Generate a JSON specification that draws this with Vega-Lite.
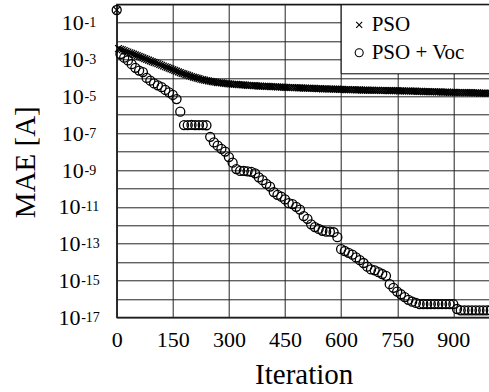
{
  "$schema": "https://vega.github.io/schema/vega-lite/v6.json",
  "width": 374,
  "height": 313,
  "autosize": {"type": "none"},
  "padding": {"left": 116.7, "top": 4.3, "right": 0, "bottom": 75},
  "background": "white",
  "config": {
    "font": "Liberation Serif",
    "view": {"stroke": "#000", "strokeWidth": 1.3},
    "axis": {
      "labelFont": "Liberation Serif", "titleFont": "Liberation Serif",
      "labelColor": "#000", "titleColor": "#000", "titleFontWeight": "normal",
      "ticks": false, "domainColor": "#222", "gridColor": "#222", "gridOpacity": 1, "gridWidth": 1,
      "labelOverlap": false, "labelFlush": false
    }
  },
  "data": {"values": [
    {"s":"PSO","i":0,"v":0.49},{"s":"PSO","i":5,"v":3.98e-3},{"s":"PSO","i":10,"v":3.63e-3},{"s":"PSO","i":15,"v":3.39e-3},{"s":"PSO","i":20,"v":3.09e-3},
    {"s":"PSO","i":25,"v":2.82e-3},{"s":"PSO","i":30,"v":2.57e-3},{"s":"PSO","i":35,"v":2.34e-3},{"s":"PSO","i":40,"v":2.14e-3},{"s":"PSO","i":45,"v":1.95e-3},
    {"s":"PSO","i":50,"v":1.78e-3},{"s":"PSO","i":55,"v":1.62e-3},{"s":"PSO","i":60,"v":1.48e-3},{"s":"PSO","i":65,"v":1.35e-3},{"s":"PSO","i":70,"v":1.23e-3},
    {"s":"PSO","i":75,"v":1.12e-3},{"s":"PSO","i":80,"v":1.02e-3},{"s":"PSO","i":85,"v":9.33e-4},{"s":"PSO","i":90,"v":8.51e-4},{"s":"PSO","i":95,"v":7.76e-4},
    {"s":"PSO","i":100,"v":7.08e-4},{"s":"PSO","i":105,"v":6.46e-4},{"s":"PSO","i":110,"v":5.89e-4},{"s":"PSO","i":115,"v":5.37e-4},{"s":"PSO","i":120,"v":4.90e-4},
    {"s":"PSO","i":125,"v":4.47e-4},{"s":"PSO","i":130,"v":4.07e-4},{"s":"PSO","i":135,"v":3.72e-4},{"s":"PSO","i":140,"v":3.39e-4},{"s":"PSO","i":145,"v":3.09e-4},
    {"s":"PSO","i":150,"v":2.82e-4},{"s":"PSO","i":155,"v":2.57e-4},{"s":"PSO","i":160,"v":2.34e-4},{"s":"PSO","i":165,"v":2.14e-4},{"s":"PSO","i":170,"v":1.95e-4},
    {"s":"PSO","i":175,"v":1.78e-4},{"s":"PSO","i":180,"v":1.66e-4},{"s":"PSO","i":185,"v":1.51e-4},{"s":"PSO","i":190,"v":1.41e-4},{"s":"PSO","i":195,"v":1.29e-4},
    {"s":"PSO","i":200,"v":1.20e-4},{"s":"PSO","i":205,"v":1.12e-4},{"s":"PSO","i":210,"v":1.05e-4},{"s":"PSO","i":215,"v":9.77e-5},{"s":"PSO","i":220,"v":9.12e-5},
    {"s":"PSO","i":225,"v":8.51e-5},{"s":"PSO","i":230,"v":8.13e-5},{"s":"PSO","i":235,"v":7.59e-5},{"s":"PSO","i":240,"v":7.24e-5},{"s":"PSO","i":245,"v":6.92e-5},
    {"s":"PSO","i":250,"v":6.61e-5},{"s":"PSO","i":255,"v":6.31e-5},{"s":"PSO","i":260,"v":6.17e-5},{"s":"PSO","i":265,"v":5.89e-5},{"s":"PSO","i":270,"v":5.62e-5},
    {"s":"PSO","i":275,"v":5.50e-5},{"s":"PSO","i":280,"v":5.37e-5},{"s":"PSO","i":285,"v":5.25e-5},{"s":"PSO","i":290,"v":5.01e-5},{"s":"PSO","i":295,"v":4.90e-5},
    {"s":"PSO","i":300,"v":4.79e-5},{"s":"PSO","i":305,"v":4.68e-5},{"s":"PSO","i":310,"v":4.57e-5},{"s":"PSO","i":315,"v":4.57e-5},{"s":"PSO","i":320,"v":4.47e-5},
    {"s":"PSO","i":325,"v":4.37e-5},{"s":"PSO","i":330,"v":4.27e-5},{"s":"PSO","i":335,"v":4.17e-5},{"s":"PSO","i":340,"v":4.17e-5},{"s":"PSO","i":345,"v":4.07e-5},
    {"s":"PSO","i":350,"v":3.98e-5},{"s":"PSO","i":355,"v":3.89e-5},{"s":"PSO","i":360,"v":3.89e-5},{"s":"PSO","i":365,"v":3.80e-5},{"s":"PSO","i":370,"v":3.80e-5},
    {"s":"PSO","i":375,"v":3.72e-5},{"s":"PSO","i":380,"v":3.63e-5},{"s":"PSO","i":385,"v":3.63e-5},{"s":"PSO","i":390,"v":3.55e-5},{"s":"PSO","i":395,"v":3.55e-5},
    {"s":"PSO","i":400,"v":3.47e-5},{"s":"PSO","i":405,"v":3.47e-5},{"s":"PSO","i":410,"v":3.39e-5},{"s":"PSO","i":415,"v":3.39e-5},{"s":"PSO","i":420,"v":3.31e-5},
    {"s":"PSO","i":425,"v":3.31e-5},{"s":"PSO","i":430,"v":3.24e-5},{"s":"PSO","i":435,"v":3.24e-5},{"s":"PSO","i":440,"v":3.16e-5},{"s":"PSO","i":445,"v":3.16e-5},
    {"s":"PSO","i":450,"v":3.09e-5},{"s":"PSO","i":455,"v":3.09e-5},{"s":"PSO","i":460,"v":3.02e-5},{"s":"PSO","i":465,"v":3.02e-5},{"s":"PSO","i":470,"v":3.02e-5},
    {"s":"PSO","i":475,"v":2.95e-5},{"s":"PSO","i":480,"v":2.95e-5},{"s":"PSO","i":485,"v":2.88e-5},{"s":"PSO","i":490,"v":2.88e-5},{"s":"PSO","i":495,"v":2.88e-5},
    {"s":"PSO","i":500,"v":2.82e-5},{"s":"PSO","i":505,"v":2.82e-5},{"s":"PSO","i":510,"v":2.75e-5},{"s":"PSO","i":515,"v":2.75e-5},{"s":"PSO","i":520,"v":2.75e-5},
    {"s":"PSO","i":525,"v":2.69e-5},{"s":"PSO","i":530,"v":2.69e-5},{"s":"PSO","i":535,"v":2.63e-5},{"s":"PSO","i":540,"v":2.63e-5},{"s":"PSO","i":545,"v":2.63e-5},
    {"s":"PSO","i":550,"v":2.57e-5},{"s":"PSO","i":555,"v":2.57e-5},{"s":"PSO","i":560,"v":2.57e-5},{"s":"PSO","i":565,"v":2.51e-5},{"s":"PSO","i":570,"v":2.51e-5},
    {"s":"PSO","i":575,"v":2.51e-5},{"s":"PSO","i":580,"v":2.45e-5},{"s":"PSO","i":585,"v":2.45e-5},{"s":"PSO","i":590,"v":2.45e-5},{"s":"PSO","i":595,"v":2.40e-5},
    {"s":"PSO","i":600,"v":2.40e-5},{"s":"PSO","i":605,"v":2.40e-5},{"s":"PSO","i":610,"v":2.34e-5},{"s":"PSO","i":615,"v":2.34e-5},{"s":"PSO","i":620,"v":2.34e-5},
    {"s":"PSO","i":625,"v":2.29e-5},{"s":"PSO","i":630,"v":2.29e-5},{"s":"PSO","i":635,"v":2.29e-5},{"s":"PSO","i":640,"v":2.24e-5},{"s":"PSO","i":645,"v":2.24e-5},
    {"s":"PSO","i":650,"v":2.24e-5},{"s":"PSO","i":655,"v":2.19e-5},{"s":"PSO","i":660,"v":2.19e-5},{"s":"PSO","i":665,"v":2.19e-5},{"s":"PSO","i":670,"v":2.19e-5},
    {"s":"PSO","i":675,"v":2.14e-5},{"s":"PSO","i":680,"v":2.14e-5},{"s":"PSO","i":685,"v":2.14e-5},{"s":"PSO","i":690,"v":2.14e-5},{"s":"PSO","i":695,"v":2.14e-5},
    {"s":"PSO","i":700,"v":2.14e-5},{"s":"PSO","i":705,"v":2.09e-5},{"s":"PSO","i":710,"v":2.09e-5},{"s":"PSO","i":715,"v":2.09e-5},{"s":"PSO","i":720,"v":2.09e-5},
    {"s":"PSO","i":725,"v":2.04e-5},{"s":"PSO","i":730,"v":2.04e-5},{"s":"PSO","i":735,"v":2.04e-5},{"s":"PSO","i":740,"v":2.04e-5},{"s":"PSO","i":745,"v":2.04e-5},
    {"s":"PSO","i":750,"v":2.04e-5},{"s":"PSO","i":755,"v":2.00e-5},{"s":"PSO","i":760,"v":2.00e-5},{"s":"PSO","i":765,"v":2.00e-5},{"s":"PSO","i":770,"v":1.95e-5},
    {"s":"PSO","i":775,"v":1.95e-5},{"s":"PSO","i":780,"v":1.95e-5},{"s":"PSO","i":785,"v":1.95e-5},{"s":"PSO","i":790,"v":1.91e-5},{"s":"PSO","i":795,"v":1.91e-5},
    {"s":"PSO","i":800,"v":1.91e-5},{"s":"PSO","i":805,"v":1.86e-5},{"s":"PSO","i":810,"v":1.86e-5},{"s":"PSO","i":815,"v":1.86e-5},{"s":"PSO","i":820,"v":1.82e-5},
    {"s":"PSO","i":825,"v":1.82e-5},{"s":"PSO","i":830,"v":1.82e-5},{"s":"PSO","i":835,"v":1.82e-5},{"s":"PSO","i":840,"v":1.78e-5},{"s":"PSO","i":845,"v":1.78e-5},
    {"s":"PSO","i":850,"v":1.78e-5},{"s":"PSO","i":855,"v":1.74e-5},{"s":"PSO","i":860,"v":1.74e-5},{"s":"PSO","i":865,"v":1.74e-5},{"s":"PSO","i":870,"v":1.70e-5},
    {"s":"PSO","i":875,"v":1.70e-5},{"s":"PSO","i":880,"v":1.70e-5},{"s":"PSO","i":885,"v":1.70e-5},{"s":"PSO","i":890,"v":1.66e-5},{"s":"PSO","i":895,"v":1.66e-5},
    {"s":"PSO","i":900,"v":1.66e-5},{"s":"PSO","i":905,"v":1.66e-5},{"s":"PSO","i":910,"v":1.62e-5},{"s":"PSO","i":915,"v":1.62e-5},{"s":"PSO","i":920,"v":1.62e-5},
    {"s":"PSO","i":925,"v":1.62e-5},{"s":"PSO","i":930,"v":1.58e-5},{"s":"PSO","i":935,"v":1.58e-5},{"s":"PSO","i":940,"v":1.58e-5},{"s":"PSO","i":945,"v":1.58e-5},
    {"s":"PSO","i":950,"v":1.58e-5},{"s":"PSO","i":955,"v":1.55e-5},{"s":"PSO","i":960,"v":1.55e-5},{"s":"PSO","i":965,"v":1.55e-5},{"s":"PSO","i":970,"v":1.51e-5},
    {"s":"PSO","i":975,"v":1.51e-5},{"s":"PSO","i":980,"v":1.51e-5},{"s":"PSO","i":985,"v":1.51e-5},{"s":"PSO","i":990,"v":1.48e-5},{"s":"PSO","i":995,"v":1.48e-5},
    {"s":"PSO","i":1000,"v":1.48e-5},
    {"s":"PSO + Voc","i":0,"v":0.49},{"s":"PSO + Voc","i":10,"v":2.00e-3},{"s":"PSO + Voc","i":20,"v":1.26e-3},{"s":"PSO + Voc","i":30,"v":8.91e-4},
    {"s":"PSO + Voc","i":40,"v":5.62e-4},{"s":"PSO + Voc","i":50,"v":3.55e-4},{"s":"PSO + Voc","i":60,"v":2.51e-4},{"s":"PSO + Voc","i":70,"v":2.09e-4},
    {"s":"PSO + Voc","i":80,"v":1.00e-4},{"s":"PSO + Voc","i":90,"v":7.08e-5},{"s":"PSO + Voc","i":100,"v":5.01e-5},{"s":"PSO + Voc","i":110,"v":3.98e-5},
    {"s":"PSO + Voc","i":120,"v":3.16e-5},{"s":"PSO + Voc","i":130,"v":2.24e-5},{"s":"PSO + Voc","i":140,"v":1.66e-5},{"s":"PSO + Voc","i":150,"v":1.20e-5},
    {"s":"PSO + Voc","i":160,"v":7.08e-6},{"s":"PSO + Voc","i":170,"v":1.48e-6},{"s":"PSO + Voc","i":180,"v":2.75e-7},{"s":"PSO + Voc","i":190,"v":2.75e-7},
    {"s":"PSO + Voc","i":200,"v":2.82e-7},{"s":"PSO + Voc","i":210,"v":2.75e-7},{"s":"PSO + Voc","i":220,"v":2.75e-7},{"s":"PSO + Voc","i":230,"v":2.75e-7},
    {"s":"PSO + Voc","i":240,"v":2.69e-7},{"s":"PSO + Voc","i":250,"v":6.31e-8},{"s":"PSO + Voc","i":260,"v":3.16e-8},{"s":"PSO + Voc","i":270,"v":2.09e-8},
    {"s":"PSO + Voc","i":280,"v":1.41e-8},{"s":"PSO + Voc","i":290,"v":1.00e-8},{"s":"PSO + Voc","i":300,"v":5.01e-9},{"s":"PSO + Voc","i":310,"v":2.51e-9},
    {"s":"PSO + Voc","i":320,"v":1.12e-9},{"s":"PSO + Voc","i":330,"v":8.91e-10},{"s":"PSO + Voc","i":340,"v":8.91e-10},{"s":"PSO + Voc","i":350,"v":8.51e-10},
    {"s":"PSO + Voc","i":360,"v":7.94e-10},{"s":"PSO + Voc","i":370,"v":6.61e-10},{"s":"PSO + Voc","i":380,"v":3.98e-10},{"s":"PSO + Voc","i":390,"v":2.82e-10},
    {"s":"PSO + Voc","i":400,"v":1.78e-10},{"s":"PSO + Voc","i":410,"v":1.26e-10},{"s":"PSO + Voc","i":420,"v":6.31e-11},{"s":"PSO + Voc","i":430,"v":4.47e-11},
    {"s":"PSO + Voc","i":440,"v":3.55e-11},{"s":"PSO + Voc","i":450,"v":2.51e-11},{"s":"PSO + Voc","i":460,"v":1.58e-11},{"s":"PSO + Voc","i":470,"v":1.41e-11},
    {"s":"PSO + Voc","i":480,"v":1.00e-11},{"s":"PSO + Voc","i":490,"v":7.08e-12},{"s":"PSO + Voc","i":500,"v":3.16e-12},{"s":"PSO + Voc","i":510,"v":2.24e-12},
    {"s":"PSO + Voc","i":520,"v":1.12e-12},{"s":"PSO + Voc","i":530,"v":7.94e-13},{"s":"PSO + Voc","i":540,"v":6.31e-13},{"s":"PSO + Voc","i":550,"v":5.01e-13},
    {"s":"PSO + Voc","i":560,"v":4.47e-13},{"s":"PSO + Voc","i":570,"v":4.47e-13},{"s":"PSO + Voc","i":580,"v":4.17e-13},{"s":"PSO + Voc","i":590,"v":2.24e-13},
    {"s":"PSO + Voc","i":600,"v":5.01e-14},{"s":"PSO + Voc","i":610,"v":3.98e-14},{"s":"PSO + Voc","i":620,"v":3.16e-14},{"s":"PSO + Voc","i":630,"v":2.51e-14},
    {"s":"PSO + Voc","i":640,"v":1.78e-14},{"s":"PSO + Voc","i":650,"v":1.26e-14},{"s":"PSO + Voc","i":660,"v":8.91e-15},{"s":"PSO + Voc","i":670,"v":5.62e-15},
    {"s":"PSO + Voc","i":680,"v":3.98e-15},{"s":"PSO + Voc","i":690,"v":3.55e-15},{"s":"PSO + Voc","i":700,"v":2.82e-15},{"s":"PSO + Voc","i":710,"v":2.24e-15},
    {"s":"PSO + Voc","i":720,"v":1.78e-15},{"s":"PSO + Voc","i":730,"v":6.31e-16},{"s":"PSO + Voc","i":740,"v":3.98e-16},{"s":"PSO + Voc","i":750,"v":2.51e-16},
    {"s":"PSO + Voc","i":760,"v":1.78e-16},{"s":"PSO + Voc","i":770,"v":1.26e-16},{"s":"PSO + Voc","i":780,"v":8.91e-17},{"s":"PSO + Voc","i":790,"v":7.08e-17},
    {"s":"PSO + Voc","i":800,"v":6.03e-17},{"s":"PSO + Voc","i":810,"v":5.25e-17},{"s":"PSO + Voc","i":820,"v":5.25e-17},{"s":"PSO + Voc","i":830,"v":5.25e-17},
    {"s":"PSO + Voc","i":840,"v":5.25e-17},{"s":"PSO + Voc","i":850,"v":5.25e-17},{"s":"PSO + Voc","i":860,"v":5.25e-17},{"s":"PSO + Voc","i":870,"v":5.25e-17},
    {"s":"PSO + Voc","i":880,"v":5.25e-17},{"s":"PSO + Voc","i":890,"v":5.25e-17},{"s":"PSO + Voc","i":900,"v":5.25e-17},{"s":"PSO + Voc","i":910,"v":2.82e-17},
    {"s":"PSO + Voc","i":920,"v":2.40e-17},{"s":"PSO + Voc","i":930,"v":2.40e-17},{"s":"PSO + Voc","i":940,"v":2.40e-17},{"s":"PSO + Voc","i":950,"v":2.40e-17},
    {"s":"PSO + Voc","i":960,"v":2.40e-17},{"s":"PSO + Voc","i":970,"v":2.40e-17},{"s":"PSO + Voc","i":980,"v":2.40e-17},{"s":"PSO + Voc","i":990,"v":2.40e-17},
    {"s":"PSO + Voc","i":1000,"v":2.40e-17}
  ]},
  "layer": [
    {
      "mark": {"type": "point", "filled": false, "color": "#000", "strokeWidth": 1.3, "opacity": 1, "size": 81},
      "encoding": {
        "x": {
          "field": "i", "type": "quantitative",
          "scale": {"domain": [0, 1000], "nice": false, "zero": false},
          "axis": {
            "values": [0, 150, 300, 450, 600, 750, 900], "title": "Iteration",
            "labelFont": "Liberation Serif", "titleFont": "Liberation Serif",
            "labelFontSize": 22, "labelPadding": 12, "titleFontSize": 29,
            "titleBaseline": "alphabetic", "titleY": 66, "grid": true
          }
        },
        "y": {
          "field": "v", "type": "quantitative",
          "scale": {"type": "log", "domain": [1e-17, 1], "nice": false},
          "axis": {
            "values": [1, 1e-1, 1e-2, 1e-3, 1e-4, 1e-5, 1e-6, 1e-7, 1e-8, 1e-9, 1e-10, 1e-11, 1e-12, 1e-13, 1e-14, 1e-15, 1e-16, 1e-17],
            "labelExpr": "round(-log(datum.value)/LN10) % 2 == 1 ? '10' : ''",
            "title": "MAE [A]", "labelAlign": "right", "labelBaseline": "middle",
            "labelFont": "Liberation Serif", "titleFont": "Liberation Serif",
            "labelPadding": {"condition": {"test": "datum.value < 1e-10", "value": 36.7}, "value": 33.4},
            "labelDy": 5, "labelFontSize": 22,
            "titleFontSize": 29, "titleX": -81.7, "titleY": 157.4, "titleBaseline": "alphabetic",
            "grid": true
          }
        },
        "shape": {
          "field": "s", "type": "nominal",
          "scale": {"domain": ["PSO", "PSO + Voc"], "range": ["M-0.75,-0.75L0.75,0.75M0.75,-0.75L-0.75,0.75", "circle"]},
          "legend": {
            "title": null, "orient": "top-right", "offset": 0,
            "labelExpr": "datum.label + '\u2800'",
            "labelFont": "Liberation Serif", "labelFontSize": 21, "labelColor": "#000",
            "strokeColor": "#000", "fillColor": "#fff", "padding": 10, "rowPadding": 6,
            "symbolSize": 64, "symbolStrokeWidth": 1.1, "symbolStrokeColor": "#000",
            "symbolOffset": -2, "labelOffset": 2,
            "encode": {"legend": {"update": {"strokeWidth": {"value": 1.5}}}}
          }
        }
      }
    },
    {
      "mark": {"type": "point", "opacity": 0},
      "encoding": {
        "y": {
          "field": "v", "type": "quantitative",
          "axis": {
            "orient": "left",
            "values": [1, 1e-1, 1e-2, 1e-3, 1e-4, 1e-5, 1e-6, 1e-7, 1e-8, 1e-9, 1e-10, 1e-11, 1e-12, 1e-13, 1e-14, 1e-15, 1e-16, 1e-17],
            "labelExpr": "round(-log(datum.value)/LN10) % 2 == 1 ? '-' + round(-log(datum.value)/LN10) : ''",
            "title": null, "labelAlign": "left", "labelBaseline": "middle",
            "labelFont": "Liberation Serif",
            "labelPadding": {"condition": {"test": "datum.value < 1e-10", "value": 36.0}, "value": 32.7},
            "labelDy": -4, "labelFontSize": 14,
            "grid": false, "domain": false
          }
        }
      }
    }
  ],
  "resolve": {"axis": {"y": "independent"}}
}
